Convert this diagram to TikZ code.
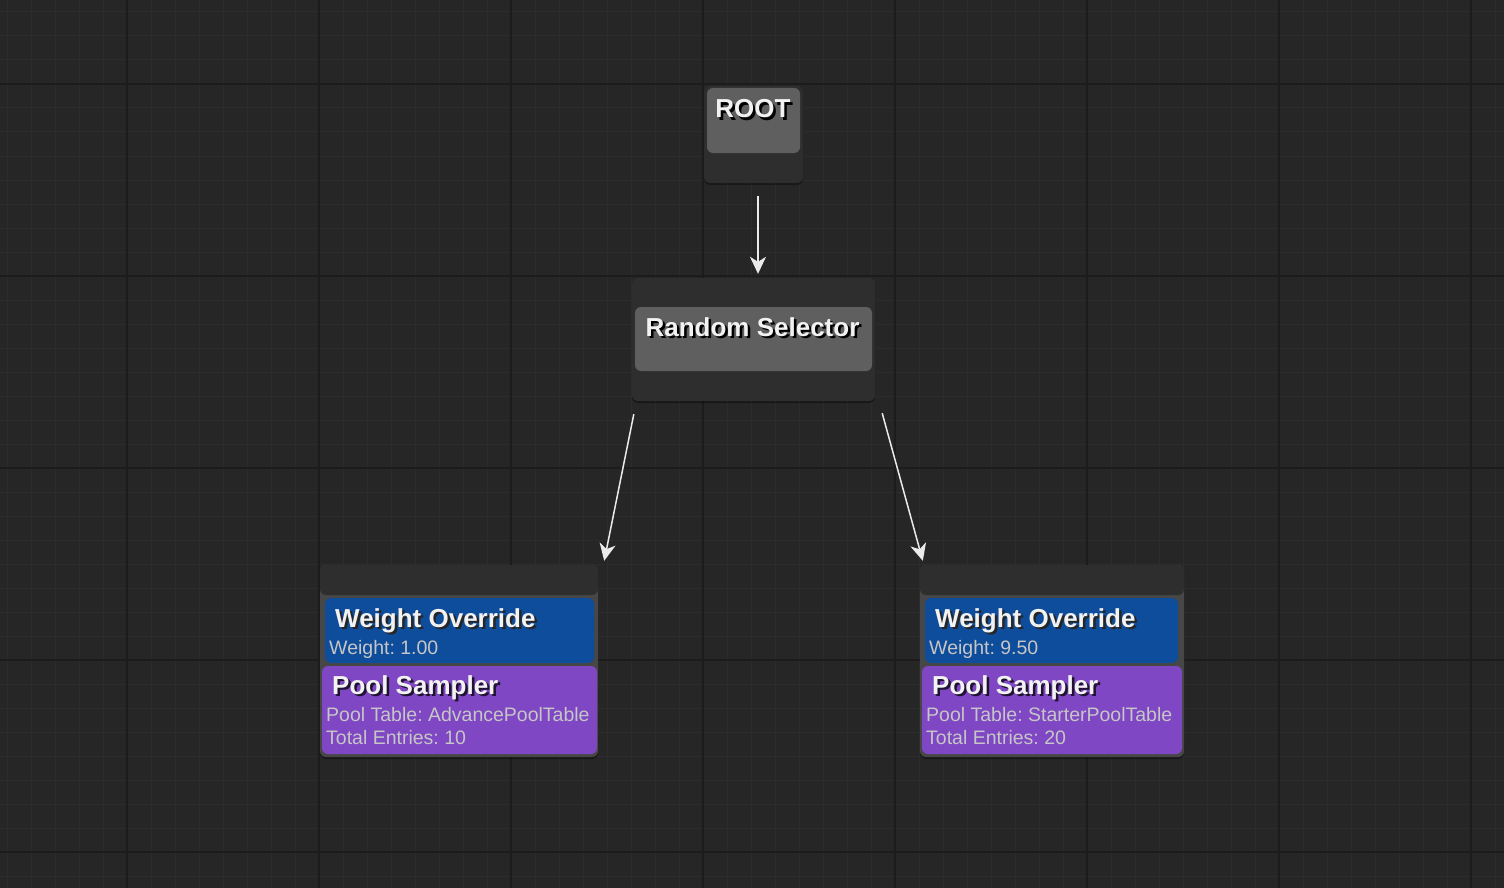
\documentclass[tikz,border=0pt]{standalone}
\usepackage{fontspec}
\setmainfont{Liberation Sans}
\usepackage{xcolor}
\usepackage{tikz}
\usetikzlibrary{arrows.meta, positioning, calc, shadows}
\frenchspacing
\definecolor{canvasbg}{HTML}{262626}
\definecolor{gridminor}{HTML}{2C2C2C}
\definecolor{gridmajor}{HTML}{1C1C1C}
\definecolor{nodedark}{HTML}{2E2E2E}
\definecolor{nodelight}{HTML}{5F5F5F}
\definecolor{nodeframe}{HTML}{474747}
\definecolor{weightblue}{HTML}{0E4C9C}
\definecolor{poolpurple}{HTML}{7F47C4}
\definecolor{titlewhite}{HTML}{F2F2F2}
\definecolor{infogray}{HTML}{C6C6C6}
\newcommand{\shadowed}[2][black]{\makebox[0pt][l]{\hspace{2.5pt}\raisebox{-2.5pt}{\textcolor{#1}{#2}}}#2}

\begin{document}
\begin{tikzpicture}[
    x=1pt, y=-1pt,
    box/.style={rectangle, rounded corners=6pt, fill=#1, inner sep=0pt},
    outer/.style={box=#1, drop shadow={shadow xshift=0pt, shadow yshift=-2pt, opacity=0.35, fill=black}},
    title/.style={font=\fontsize{26}{30}\selectfont\bfseries, text=titlewhite, inner sep=0pt},
    info/.style={font=\fontsize{19.5}{22.5}\selectfont, text=infogray, inner sep=0pt, align=left},
    arrow/.style={-{Stealth[length=17pt, width=16pt, inset=5pt]}, line width=1.5pt, color=white!92!black}
]

% Canvas and grid
\useasboundingbox (0,0) rectangle (1504,888);
\fill[canvasbg] (0,0) rectangle (1504,888);
\foreach \x in {7,31,...,1495} \draw[gridminor, line width=1pt] (\x,0) -- (\x,888);
\foreach \y in {12,36,...,876} \draw[gridminor, line width=1pt] (0,\y) -- (1504,\y);
\foreach \x in {127,319,...,1471} \draw[gridmajor, line width=2pt] (\x,0) -- (\x,888);
\foreach \y in {84,276,...,852} \draw[gridmajor, line width=2pt] (0,\y) -- (1504,\y);

% Root
\node[outer=nodedark, minimum width=99pt, minimum height=97pt] (root) at (753.5,134.5) {};
\node[box=nodelight, minimum width=93pt, minimum height=65pt] (rootbody) at (753.5,120.5) {};
\node[title, anchor=base] (roottitle) at (753,118) {\shadowed{ROOT}};

% Selector
\node[outer=nodedark, minimum width=243pt, minimum height=123pt] (selector) at (753.5,339.5) {};
\node[box=nodelight, minimum width=237pt, minimum height=64pt] (selectorbody) at (753.5,339) {};
\node[title, anchor=base] (selectortitle) at (752.5,336) {\shadowed{Random Selector}};

% Left leaf
\node[outer=nodeframe, minimum width=278pt, minimum height=192pt] (leftleaf) at (459,661) {};
\node[box=nodedark, minimum width=278pt, minimum height=30pt] (lefthead) at (459,580) {};
\node[box=weightblue, minimum width=269pt, minimum height=65pt] (leftweight) at (459.5,630.5) {};
\node[box=poolpurple, minimum width=275pt, minimum height=88pt] (leftpool) at (459.5,710) {};
\node[title, anchor=base west] (leftwtitle) at (335,627) {\shadowed[black!85]{Weight Override}};
\node[info, anchor=base west] (leftwinfo) at (329,654) {Weight: 1.00};
\node[title, anchor=base west] (leftptitle) at (332,694) {\shadowed[black!75!poolpurple]{Pool Sampler}};
\node[info, anchor=base west] (leftpinfo) at (326,744) {Pool Table: AdvancePoolTable\\Total Entries: 10};

% Right leaf
\node[outer=nodeframe, minimum width=264pt, minimum height=192pt] (rightleaf) at (1052,661) {};
\node[box=nodedark, minimum width=264pt, minimum height=30pt] (righthead) at (1052,580) {};
\node[box=weightblue, minimum width=253pt, minimum height=65pt] (rightweight) at (1051.5,630.5) {};
\node[box=poolpurple, minimum width=260pt, minimum height=88pt] (rightpool) at (1052,710) {};
\node[title, anchor=base west] (rightwtitle) at (935,627) {\shadowed[black!85]{Weight Override}};
\node[info, anchor=base west] (rightwinfo) at (929,654) {Weight: 9.50};
\node[title, anchor=base west] (rightptitle) at (932,694) {\shadowed[black!75!poolpurple]{Pool Sampler}};
\node[info, anchor=base west] (rightpinfo) at (926,744) {Pool Table: StarterPoolTable\\Total Entries: 20};

% Edges
\draw[arrow] ($(root.south)+(4.5,13)$) -- ($(selector.north)+(4.5,-4)$);
\draw[arrow] ($(selector.south west)+(2,13)$) -- ($(leftleaf.north east)+(6,-4)$);
\draw[arrow] ($(selector.south east)+(7,12)$) -- ($(rightleaf.north west)+(3,-4)$);

\end{tikzpicture}
\end{document}
